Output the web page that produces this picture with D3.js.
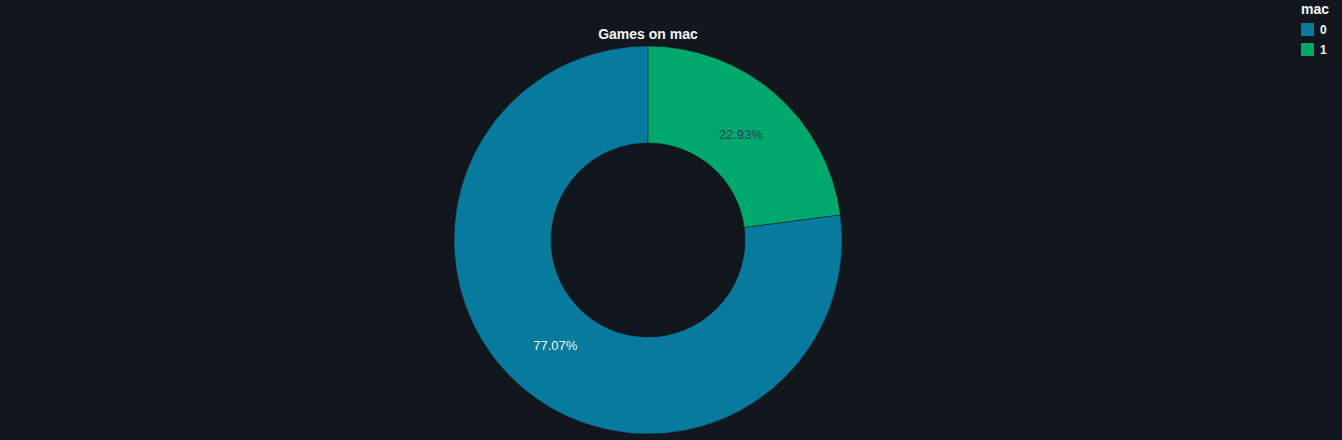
<!DOCTYPE html>
<html><head><meta charset="utf-8">
<script src="https://cdn.jsdelivr.net/npm/d3@7"></script>
<style>html,body{margin:0;padding:0;background:#12161d;}svg{display:block;}</style>
</head><body>
<svg id="c" width="1342" height="440"></svg>
<script>
const categories = ["0", "1"];
const values = [77.07, 22.93];
const colors = ["#087a9e", "#00a86b"];
const labelColors = ["#f2f5fa", "#2a3f5f"];
const title = "Games on mac";
const legendTitle = "mac";

const svg = d3.select("#c");
const W = 1342, H = 440;
svg.append("rect").attr("width", W).attr("height", H).attr("fill", "#12161d");
const cx = 648, cy = 240, outerR = 194, innerR = 97, labelR = 140.5;
const font = "'Liberation Sans', Arial, sans-serif";

const pie = d3.pie().sort(null).value(d => d.v).startAngle(0).endAngle(-2 * Math.PI);
const data = pie(categories.map((c, i) => ({c, v: values[i], i})));
const arc = d3.arc().innerRadius(innerR).outerRadius(outerR);
const mid = d3.arc().innerRadius(labelR).outerRadius(labelR);
const total = d3.sum(values);

const g = svg.append("g").attr("transform", `translate(${cx},${cy})`);
g.selectAll("path").data(data).join("path")
  .attr("d", arc).attr("fill", d => colors[d.data.i])
  .attr("stroke", "#12161d").attr("stroke-width", 0.5);
g.selectAll("text").data(data).join("text")
  .attr("transform", d => `translate(${mid.centroid(d)})`)
  .attr("text-anchor", "middle").attr("dy", "0.35em")
  .attr("font-family", font).attr("font-size", 13)
  .attr("fill", d => labelColors[d.data.i])
  .text(d => (d.data.v / total * 100).toFixed(2) + "%");

svg.append("text").attr("x", cx).attr("y", 39).attr("text-anchor", "middle")
  .attr("font-family", font).attr("font-size", 14).attr("font-weight", "bold")
  .attr("fill", "#f2f5fa").text(title);

const lg = svg.append("g").attr("transform", "translate(1301,0)");
lg.append("text").attr("x", 0).attr("y", 14).attr("font-family", font)
  .attr("font-size", 14).attr("font-weight", "bold").attr("fill", "#f2f5fa").text(legendTitle);
categories.forEach((c, i) => {
  const y = 23 + i * 20;
  lg.append("rect").attr("x", 0).attr("y", y).attr("width", 13).attr("height", 13).attr("fill", colors[i]);
  lg.append("text").attr("x", 19).attr("y", y + 11).attr("font-family", font)
    .attr("font-size", 12).attr("font-weight", "bold").attr("fill", "#f2f5fa").text(c);
});
</script>
</body></html>
